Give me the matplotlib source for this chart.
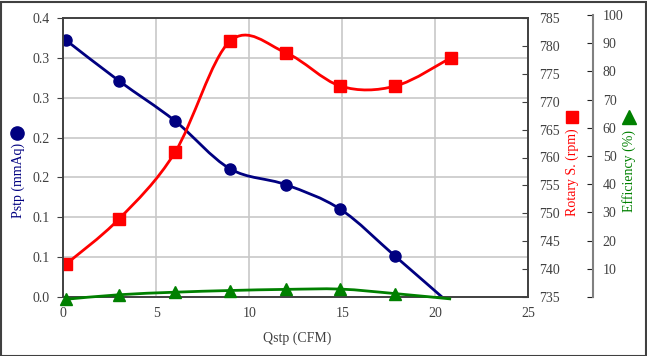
import math
import matplotlib
matplotlib.use('Agg')
import matplotlib.pyplot as plt
from matplotlib.path import Path
from matplotlib.patches import PathPatch, Rectangle
from matplotlib.lines import Line2D
from matplotlib.ticker import FuncFormatter, MultipleLocator

plt.rcParams['font.family'] = ['Liberation Serif', 'DejaVu Sans']

# data
qstp = [0.15, 3.0, 6.0, 8.95, 11.95, 14.9, 17.85, 20.85]
pstp = [0.322, 0.271, 0.221, 0.161, 0.141, 0.110, 0.051, -0.010]
rpm = [740.9, 749.0, 760.9, 780.8, 778.8, 772.8, 772.8, 777.9]
eff = [-0.8, 0.8, 1.7, 2.3, 2.7, 2.8, 1.2, -0.7]

x_ticks = [0, 5, 10, 15, 20, 25]
eff_ticks = [0, 10, 20, 30, 40, 50, 60, 70, 80, 90, 100]

NAVY = '#000080'
RED = '#FF0000'
GREEN = '#008000'
TXT = '#404040'


def smooth_path(xs, ys):
    # bezier segments like Excel's smoothed line
    pts = list(zip(xs, ys))
    n = len(pts)
    verts = [pts[0]]
    codes = [Path.MOVETO]
    for i in range(n - 1):
        p0 = pts[max(i - 1, 0)]
        p1 = pts[i]
        p2 = pts[i + 1]
        p3 = pts[min(i + 2, n - 1)]
        c1 = (p1[0] + (p2[0] - p0[0]) / 6, p1[1] + (p2[1] - p0[1]) / 6)
        c2 = (p2[0] - (p3[0] - p1[0]) / 6, p2[1] - (p3[1] - p1[1]) / 6)
        verts += [c1, c2, p2]
        codes += [Path.CURVE4] * 3
    return Path(verts, codes)


def excel_round(v, pos):
    return '%.1f' % (math.floor(v * 10 + 0.5 + 1e-9) / 10)


W, H = 647, 356
fig = plt.figure(figsize=(W / 100, H / 100), dpi=100)

left, right, top, bottom = 63.3, 528.3, 18, 297
ax = fig.add_axes([left / W, 1 - bottom / H, (right - left) / W, (bottom - top) / H])
ax.set_xlim(0, 25)
ax.set_ylim(0, 0.35)
ax.set_xticks(x_ticks)
ax.yaxis.set_major_locator(MultipleLocator(0.05))
ax.yaxis.set_major_formatter(FuncFormatter(excel_round))
ax.grid(color='#C8C8C8', lw=1.2)
ax.set_axisbelow(True)
ax.tick_params(axis='x', length=0, pad=7, labelsize=10, labelcolor=TXT)
ax.tick_params(axis='y', length=4, pad=6, labelsize=10, labelcolor=TXT, color=TXT)
for s in ax.spines.values():
    s.set_color(TXT)
    s.set_linewidth(1.2)

ax.add_patch(PathPatch(smooth_path(qstp, pstp), fill=False, ec=NAVY, lw=2))
ax.plot(qstp, pstp, ls='none', marker='o', ms=8, color=NAVY)

# rotary speed axis
ax_r = ax.twinx()
ax_r.set_ylim(735, 785)
ax_r.yaxis.set_major_locator(MultipleLocator(5))
ax_r.tick_params(axis='y', direction='in', length=4, pad=8, labelsize=10,
                 labelcolor=TXT, color=TXT)
for s in ax_r.spines.values():
    s.set_color(TXT)
    s.set_linewidth(1.2)
ax_r.add_patch(PathPatch(smooth_path(qstp, rpm), fill=False, ec=RED, lw=2))
ax_r.plot(qstp, rpm, ls='none', marker='s', ms=8, color=RED)

# efficiency axis
eff_top = 15
ax_e = fig.add_axes([left / W, 1 - bottom / H, (right - left) / W, (bottom - eff_top) / H])
ax_e.set_xlim(0, 25)
ax_e.set_ylim(0, 100)
ax_e.patch.set_visible(False)
ax_e.xaxis.set_visible(False)
for k in ['left', 'top', 'bottom']:
    ax_e.spines[k].set_visible(False)
ax_e.spines['right'].set_position(('axes', (593 - left) / (right - left)))
ax_e.spines['right'].set_color('#808080')
ax_e.spines['right'].set_linewidth(1.5)
ax_e.yaxis.set_ticks_position('right')
ax_e.set_yticks(eff_ticks)
ax_e.set_yticklabels([''] + [str(t) for t in eff_ticks[1:]])
ax_e.tick_params(axis='y', direction='in', length=4, pad=7, labelsize=10,
                 labelcolor=TXT, color='#202020')
ax_e.add_patch(PathPatch(smooth_path(qstp, eff), fill=False, ec=GREEN, lw=2, clip_on=False))
# the last marker sits below the plot area and is not shown
ax_e.plot(qstp, eff, ls='none', marker='^', ms=8, color=GREEN, clip_on=False,
          markevery=slice(0, len(qstp) - 1))

# axis titles with their marker symbols
fig.text(297 / W, 1 - 338 / H, 'Qstp (CFM)', ha='center', va='center', fontsize=10, color=TXT)
fig.text(18 / W, 1 - 180.5 / H, 'Pstp (mmAq)', ha='center', va='center', rotation=90,
         fontsize=10, color=NAVY)
fig.text(572.5 / W, 1 - 172.5 / H, 'Rotary S. (rpm)', ha='center', va='center', rotation=90,
         fontsize=10, color=RED)
fig.text(628.8 / W, 1 - 170.5 / H, 'Efficiency (%)', ha='center', va='center', rotation=90,
         fontsize=10, color=GREEN)
fig.add_artist(Line2D([17.3 / W], [1 - 133.3 / H], marker='o', ms=9.5, color=NAVY,
                      transform=fig.transFigure))
fig.add_artist(Line2D([571.7 / W], [1 - 117.3 / H], marker='s', ms=9, color=RED,
                      transform=fig.transFigure))
fig.add_artist(Line2D([629.3 / W], [1 - 117.3 / H], marker='^', ms=9.5, color=GREEN,
                      transform=fig.transFigure))

# chart border
fig.add_artist(Rectangle((0.5 / W, 0.5 / H), 1 - 2 / W, 1 - 2 / H, fill=False,
                         ec='#404040', lw=1.5, transform=fig.transFigure))

fig.savefig('out.png', dpi=100)
